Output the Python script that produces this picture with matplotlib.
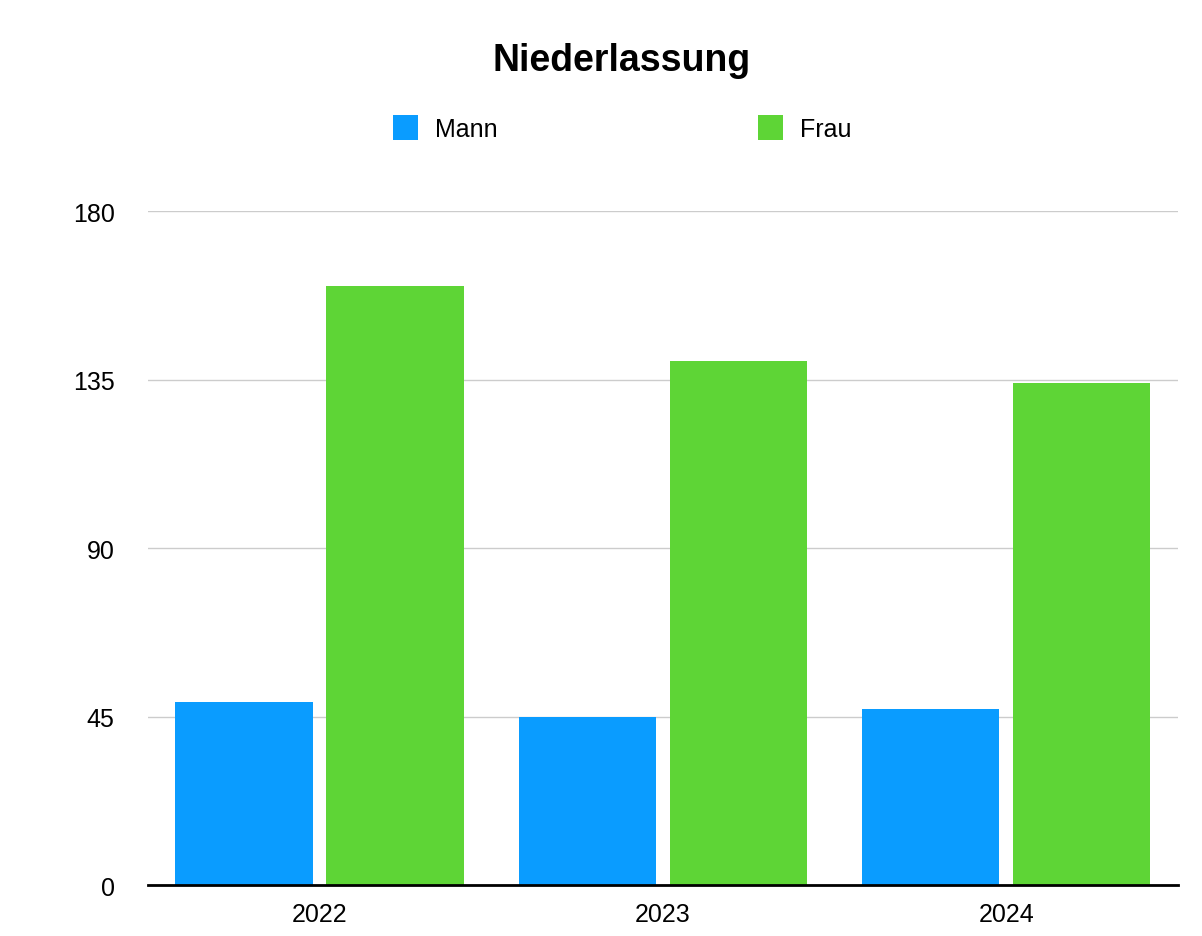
import numpy as np
import matplotlib.pyplot as plt

plt.rcParams['font.family'] = ['Liberation Sans', 'DejaVu Sans']

years = ["2022", "2023", "2024"]
mann = [49, 45, 47]
frau = [160, 140, 134]
yticks = [0, 45, 90, 135, 180]

blau = "#0A9CFF"
gruen = "#5ED536"

fig = plt.figure(figsize=(12.02, 9.37), dpi=100)
ax = fig.add_axes([0.1231, 0.0544, 0.8569, 0.7193])

x = np.arange(len(years))
w = 0.4
ax.bar(x - 0.22, mann, w, color=blau, label="Mann", zorder=3)
ax.bar(x + 0.22, frau, w, color=gruen, label="Frau", zorder=3)

ax.set_xlim(-0.5, 2.5)
ax.set_ylim(0, 180)
ax.set_yticks(yticks)
ax.set_xticks(x)
ax.set_xticklabels(years)
ax.grid(axis="y", color="#cccccc", linewidth=1, zorder=0)
for s in ["top", "right", "left"]:
    ax.spines[s].set_visible(False)
ax.spines["bottom"].set_color("black")
ax.spines["bottom"].set_linewidth(2)
ax.spines["bottom"].set_zorder(4)
ax.tick_params(axis="both", length=0, labelsize=18, colors="black")
ax.tick_params(axis="y", pad=24)
ax.tick_params(axis="x", pad=12)

fig.text(0.5175, 0.935, "Niederlassung", ha="center", va="center",
         fontsize=27, fontweight="bold")
fig.legend(loc="center", bbox_to_anchor=(0.5175, 0.8625), ncol=2, frameon=False,
           fontsize=18, handlelength=1.0, handleheight=1.15, columnspacing=10.4,
           handletextpad=0.68)

fig.savefig("out.png", dpi=100)
